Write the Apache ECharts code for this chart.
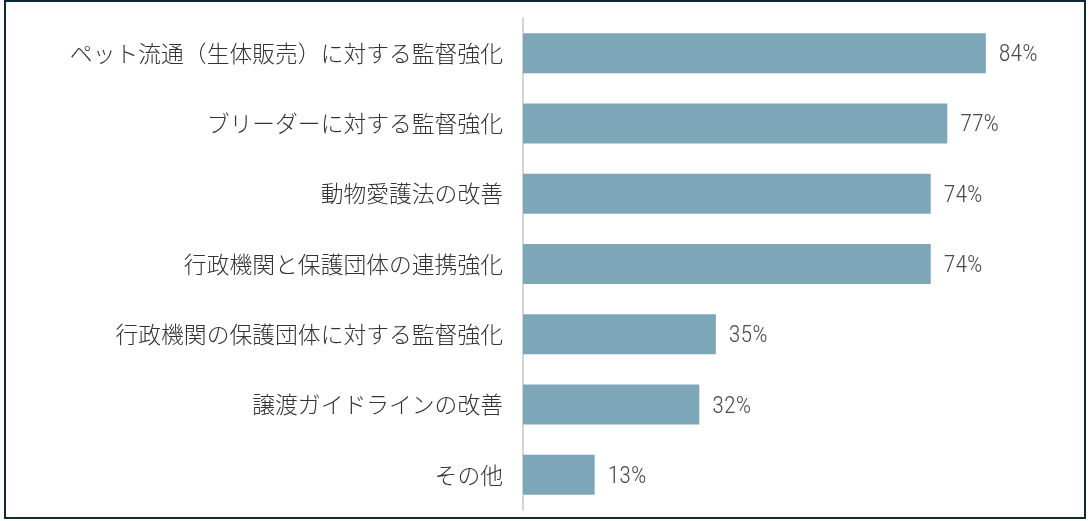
<!DOCTYPE html>
<html><head><meta charset="utf-8">
<script src="https://cdn.jsdelivr.net/npm/echarts@6/dist/echarts.min.js"></script>
<style>html,body{margin:0;padding:0;background:#fff}#c{width:1090px;height:521px}</style>
</head><body><div id="c"></div>
<script>
const categories = ['ペット流通（生体販売）に対する監督強化','ブリーダーに対する監督強化','動物愛護法の改善','行政機関と保護団体の連携強化','行政機関の保護団体に対する監督強化','譲渡ガイドラインの改善','その他'];
const values = [84, 77, 74, 74, 35, 32, 13];
const chart = echarts.init(document.getElementById('c'));
chart.setOption({
  animation: false,
  grid: {left: 523, right: 16, top: 18, bottom: 11},
  xAxis: {type: 'value', min: 0, max: 100, show: false},
  yAxis: {
    type: 'category', data: categories, inverse: true,
    axisLine: {show: true, lineStyle: {color: '#d4d4d4', width: 2}},
    axisTick: {show: false},
    axisLabel: {margin: 20, fontSize: 22.8, fontWeight: 300, color: '#333', fontFamily: '"Noto Sans CJK JP", sans-serif'}
  },
  series: [{
    type: 'bar', data: values, barWidth: 40,
    itemStyle: {color: '#7ea6b9'},
    label: {show: true, position: 'right', distance: 13, offset: [0, 2], formatter: '{c}%', fontSize: 24, fontWeight: 300, color: '#4a4a4a', fontFamily: '"Roboto Condensed", "Noto Sans CJK JP", sans-serif'}
  }],
  graphic: [{type: 'rect', shape: {x: 5, y: 1, width: 1080, height: 517}, style: {fill: 'none', stroke: '#0e2a35', lineWidth: 2}, z: 100}]
});
</script></body></html>
